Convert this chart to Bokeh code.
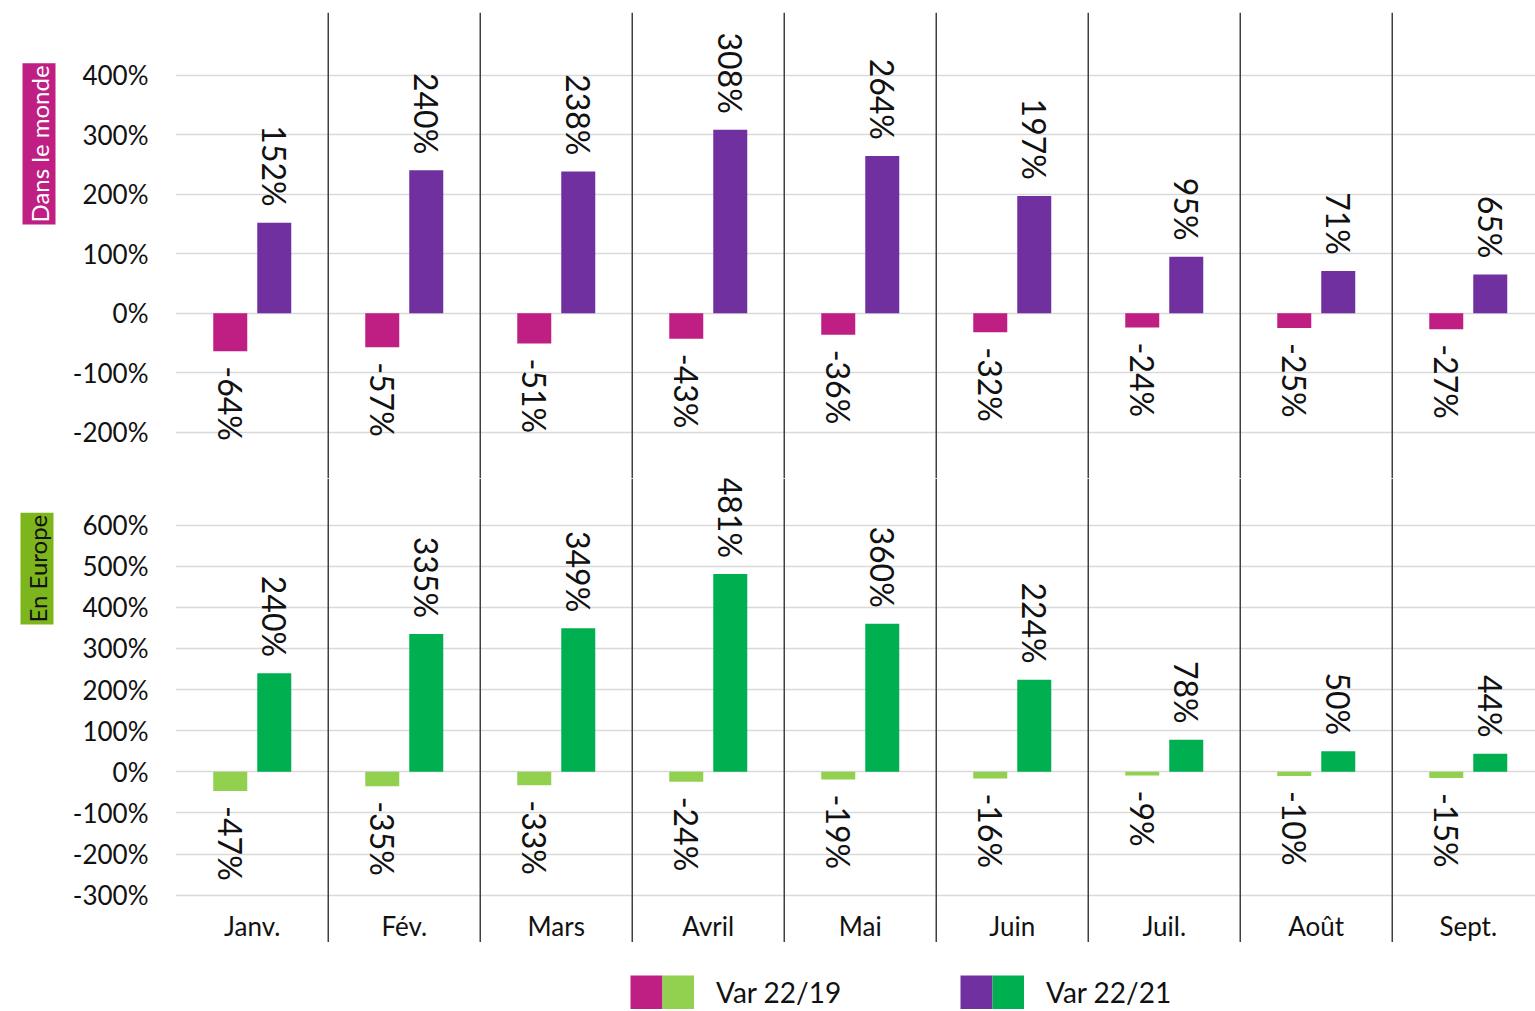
import math
import numpy as np
from bokeh.plotting import figure
from bokeh.layouts import column
from bokeh.models import (Range1d, FixedTicker, PrintfTickFormatter, Span, Title,
                          Legend, LegendItem, ColumnDataSource)
from bokeh.transform import dodge
from bokeh.core.properties import value
from bokeh.embed import file_html
from bokeh.resources import INLINE

# ---------------- data ----------------
months = ["Janv.", "Fév.", "Mars", "Avril", "Mai", "Juin", "Juil.", "Août", "Sept."]
monde_22_19 = [-64, -57, -51, -43, -36, -32, -24, -25, -27]
monde_22_21 = [152, 240, 238, 308, 264, 197, 95, 71, 65]
europe_22_19 = [-47, -35, -33, -24, -19, -16, -9, -10, -15]
europe_22_21 = [240, 335, 349, 481, 360, 224, 78, 50, 44]
monde_ticks = [-200, -100, 0, 100, 200, 300, 400]
europe_ticks = [-300, -200, -100, 0, 100, 200, 300, 400, 500, 600]
series_labels = ["Var 22/19", "Var 22/21"]
panel_labels = ["Dans le monde", "En Europe"]

# ---------------- style ----------------
MAGENTA = "#BF1E82"
PURPLE = "#7030A0"
LGREEN = "#92D050"
GREEN = "#00B050"
EU_BG = "#7DB51C"
TXT = "#111111"
FONT = "Lato"

W = 1535
LEFT = 175
CAT_PX = 152.0
X0 = -0.005
X_END = X0 + (W - LEFT) / CAT_PX
OFF = 22 / CAT_PX
BAR_W = 34 / CAT_PX

xs = np.arange(len(months)) + 0.5


def pct(v):
    return [f"{x}%" for x in v]


def side_title(text, color, bg, offset, standoff):
    kw = dict(text=text, align="left", offset=offset, standoff=standoff,
              text_color=color, text_font=FONT, text_font_size="24px",
              text_font_style="normal", background_fill_color=bg)
    try:
        return Title(padding=2, **kw)
    except Exception:
        return Title(**kw)


def make_panel(height, top_border, yr, ticks, v1, v2, c1, c2):
    p = figure(width=W, height=height, x_range=Range1d(X0, X_END), y_range=yr,
               output_backend="svg", toolbar_location=None, title=None,
               min_border_left=LEFT, min_border_right=0, min_border_top=top_border,
               min_border_bottom=0, x_axis_location=None)
    p.outline_line_color = None
    p.background_fill_color = "white"
    p.border_fill_color = "white"
    p.xgrid.visible = False
    ax = p.yaxis[0]
    ax.ticker = FixedTicker(ticks=ticks)
    ax.formatter = PrintfTickFormatter(format="%d%%")
    ax.axis_line_color = None
    ax.major_tick_line_color = None
    ax.minor_tick_line_color = None
    ax.major_tick_out = 0
    ax.major_tick_in = 0
    ax.major_label_text_font = FONT
    ax.major_label_text_font_size = "26px"
    ax.major_label_text_color = TXT
    ax.major_label_standoff = 27
    p.ygrid.ticker = FixedTicker(ticks=ticks)
    p.ygrid.grid_line_color = "#D9D9D9"
    p.ygrid.grid_line_width = 1.5

    src = ColumnDataSource(dict(
        x=xs, v1=v1, v2=v2, l1=pct(v1), l2=pct(v2),
        a1=["left" if v < 0 else "right" for v in v1],
        a2=["left" if v < 0 else "right" for v in v2],
        o1=[15 if v < 0 else -16 for v in v1],
        o2=[15 if v < 0 else -16 for v in v2],
    ))
    p.vbar(x=dodge("x", -OFF), top="v1", bottom=0, width=BAR_W, source=src,
           fill_color=c1, line_color=None)
    p.vbar(x=dodge("x", OFF), top="v2", bottom=0, width=BAR_W, source=src,
           fill_color=c2, line_color=None)
    for col, lab, al, of, sgn in (("v1", "l1", "a1", "o1", -1), ("v2", "l2", "a2", "o2", 1)):
        p.text(x=dodge("x", sgn * OFF), y=col, text=lab, source=src,
               angle=-math.pi / 2, text_align=al, y_offset=of,
               text_baseline="middle", text_font=value(FONT),
               text_font_size="32px", text_color=TXT)
    for k in range(1, len(months)):
        p.add_layout(Span(location=k, dimension="height",
                          line_color="#404040", line_width=1.5))
    return p


p1 = make_panel(478, 12, Range1d(-277.6, 505.0), monde_ticks,
                monde_22_19, monde_22_21, MAGENTA, PURPLE)
p2 = make_panel(464, 0, Range1d(-415.2, 713.4), europe_ticks,
                europe_22_19, europe_22_21, LGREEN, GREEN)

# month labels at the bottom of the lower panel
msrc = ColumnDataSource(dict(x=xs, m=months, y=[p2.y_range.start] * len(months)))
p2.text(x="x", y="y", text="m", source=msrc, text_align="center",
        text_baseline="bottom", y_offset=-1, text_font=value(FONT),
        text_font_size="26px", text_color=TXT)

# side panel labels
p1.add_layout(side_title(panel_labels[0], "white", MAGENTA, 254, 28), "left")
p2.add_layout(side_title(panel_labels[1], TXT, EU_BG, 318, 32), "left")

# legend figure
p3 = figure(width=W, height=69, output_backend="svg", toolbar_location=None, title=None,
            min_border_left=LEFT, min_border_right=0, min_border_top=0, min_border_bottom=0,
            x_axis_location=None, y_axis_location=None)
p3.outline_line_color = None
p3.grid.visible = False
r1 = p3.line(x=[0], y=[0], line_color=MAGENTA, line_width=34, line_dash="32 32", line_cap="butt")
r2 = p3.line(x=[0], y=[0], line_color=LGREEN, line_width=34, line_dash="0 32 32 0", line_cap="butt")
r3 = p3.line(x=[0], y=[0], line_color=PURPLE, line_width=34, line_dash="32 32", line_cap="butt")
r4 = p3.line(x=[0], y=[0], line_color=GREEN, line_width=34, line_dash="0 32 32 0", line_cap="butt")
legend = Legend(items=[LegendItem(label=series_labels[0], renderers=[r1, r2]),
                       LegendItem(label=series_labels[1], renderers=[r3, r4])],
                orientation="horizontal", location=(455, 2), glyph_width=64,
                glyph_height=34, label_standoff=22, spacing=118, label_width=126,
                padding=0, margin=0, border_line_color=None, background_fill_alpha=0,
                label_text_font=FONT, label_text_font_size="28px",
                label_text_color=TXT, label_height=34)
p3.add_layout(legend)

layout = column(p1, p2, p3, spacing=0)
open("out.html", "w").write(file_html(layout, INLINE))
